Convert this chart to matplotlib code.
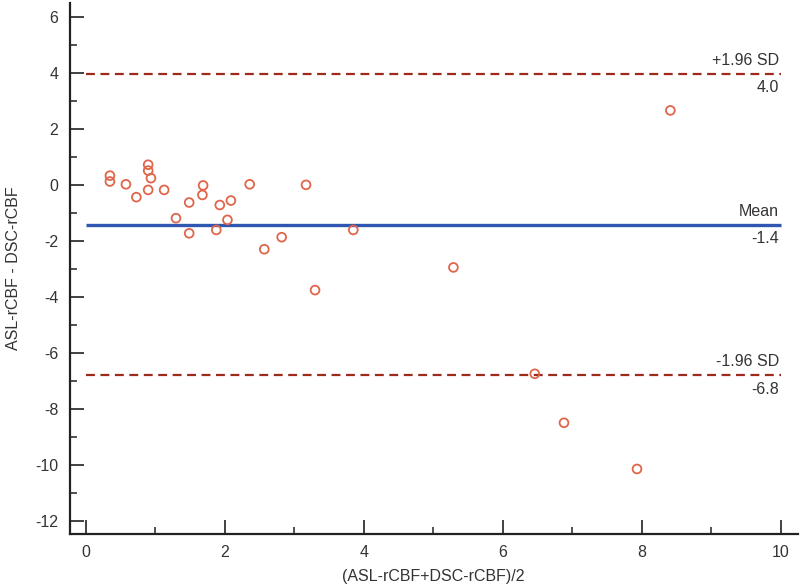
import numpy as np
import matplotlib
matplotlib.use("Agg")
from matplotlib import pyplot as plt
from matplotlib.ticker import MultipleLocator

plt.rcParams["font.family"] = ["Liberation Sans", "DejaVu Sans"]
plt.rcParams["axes.unicode_minus"] = False

# Bland-Altman data
mean_vals = [0.35, 0.35, 0.58, 0.73, 0.90, 0.90, 0.94, 0.90, 1.13, 1.30,
             1.49, 1.49, 1.69, 1.68, 1.88, 1.93, 2.09, 2.04, 2.36, 2.57,
             2.82, 3.17, 3.30, 3.85, 5.29, 6.46, 6.88, 7.93, 8.41]
diff_vals = [0.33, 0.12, 0.02, -0.44, 0.72, 0.51, 0.24, -0.18, -0.18, -1.19,
             -0.63, -1.73, -0.02, -0.36, -1.61, -0.72, -0.56, -1.25, 0.02, -2.30,
             -1.87, 0.00, -3.76, -1.61, -2.95, -6.75, -8.50, -10.15, 2.66]

bias = -1.43
upper = 3.97
lower = -6.81
line_labels = [("+1.96 SD", "4.0"), ("Mean", "-1.4"), ("-1.96 SD", "-6.8")]

fig = plt.figure(figsize=(8, 5.87), dpi=100)
ax = fig.add_axes([0.087, 0.09, 0.910, 0.905])

ax.hlines([upper, lower], 0, 10, colors="#9e2a1c", linestyles=(0, (4, 2.5)), lw=1.6)
ax.hlines(bias, 0, 10, colors="#2f56b0", lw=2.4)

ax.scatter(mean_vals, diff_vals, s=40, facecolors="none", edgecolors="#e0654a",
           linewidths=1.3, zorder=3)

for yv, (top, bot) in zip([upper, bias, lower], line_labels):
    ax.text(9.97, yv + 0.22, top, ha="right", va="bottom", fontsize=11.5, color="#333333")
    ax.text(9.97, yv - 0.22, bot, ha="right", va="top", fontsize=11.5, color="#333333")

ax.set_xlim(-0.23, 10.24)
ax.set_ylim(-12.48, 6.5)
ax.xaxis.set_major_locator(MultipleLocator(2))
ax.xaxis.set_minor_locator(MultipleLocator(1))
ax.yaxis.set_major_locator(MultipleLocator(2))
ax.yaxis.set_minor_locator(MultipleLocator(1))
ax.tick_params(which="major", direction="in", length=10, width=1.3, labelsize=11.5,
               colors="#333333", pad=8)
ax.tick_params(which="minor", direction="in", length=5, width=1.2, colors="#333333")

for s in ["top", "right"]:
    ax.spines[s].set_visible(False)
for s in ["left", "bottom"]:
    ax.spines[s].set_linewidth(1.6)
    ax.spines[s].set_color("#222222")

ax.set_xlabel("(ASL-rCBF+DSC-rCBF)/2", fontsize=11.5, color="#333333", labelpad=6)
ax.set_ylabel("ASL-rCBF - DSC-rCBF", fontsize=11.5, color="#333333", labelpad=10)

fig.savefig("out.png")
